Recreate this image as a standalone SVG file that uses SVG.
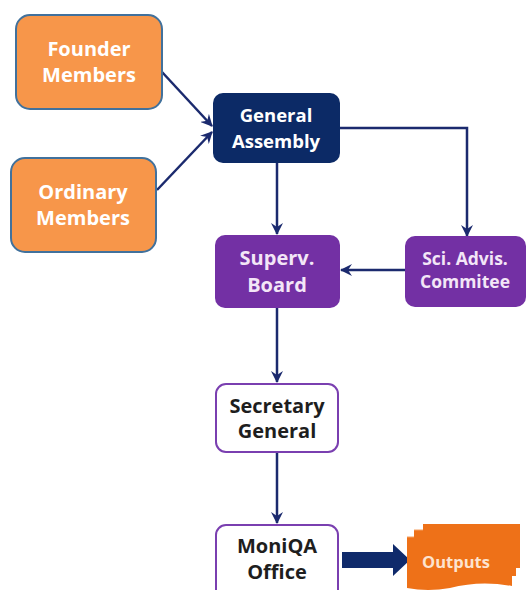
<svg xmlns="http://www.w3.org/2000/svg" width="527" height="590" viewBox="0 0 527 590">
<defs>
<style>
.lbl{font-family:"Open Sans","Liberation Sans",sans-serif;font-weight:700;text-anchor:middle}
.w{fill:#ffffff}
.pk{fill:#f3e6f7}
.dk{fill:#1e1e1e}
.conn{fill:none;stroke:#1b2a6e;stroke-width:2.5}
</style>
<marker id="ah" viewBox="0 0 12 12" refX="11" refY="6" markerWidth="12" markerHeight="12" markerUnits="userSpaceOnUse" orient="auto">
<path d="M0,0 L12,6 L0,12 L4,6 Z" fill="#1b2a6e"/>
</marker>
</defs>
<rect width="527" height="590" fill="#ffffff"/>
<g id="connectors">
<line class="conn" x1="162" y1="72" x2="212" y2="126" marker-end="url(#ah)"/>
<line class="conn" x1="157" y1="190" x2="212" y2="132" marker-end="url(#ah)"/>
<line class="conn" x1="277" y1="163" x2="277" y2="234" marker-end="url(#ah)"/>
<polyline class="conn" points="340,128 467,128 467,236" marker-end="url(#ah)"/>
<line class="conn" x1="405" y1="270" x2="341" y2="270" marker-end="url(#ah)"/>
<line class="conn" x1="277" y1="308" x2="277" y2="382" marker-end="url(#ah)"/>
<line class="conn" x1="277" y1="452" x2="277" y2="523" marker-end="url(#ah)"/>
<path d="M342,552 L393,552 L393,544 L410,560 L393,576 L393,568 L342,568 Z" fill="#0f2a6b"/>
</g>
<g id="founder">
<rect x="16" y="15" width="146" height="94" rx="14" fill="#f7964a" stroke="#41719c" stroke-width="2"/>
<text class="lbl w" x="89" y="56" font-size="20">Founder</text>
<text class="lbl w" x="89" y="82" font-size="20">Members</text>
</g>
<g id="ordinary">
<rect x="11" y="158" width="145" height="94" rx="14" fill="#f7964a" stroke="#41719c" stroke-width="2"/>
<text class="lbl w" x="83" y="199" font-size="20">Ordinary</text>
<text class="lbl w" x="83" y="225" font-size="20">Members</text>
</g>
<g id="assembly">
<rect x="213" y="93" width="127" height="70" rx="10" fill="#0c2a66"/>
<text class="lbl w" x="276" y="122" font-size="18.5" font-weight="600">General</text>
<text class="lbl w" x="276" y="148" font-size="18.5" font-weight="600">Assembly</text>
</g>
<g id="superv">
<rect x="215" y="235" width="125" height="73" rx="10" fill="#7330a4"/>
<text class="lbl pk" x="277" y="265" font-size="20" font-weight="600">Superv.</text>
<text class="lbl pk" x="277" y="292" font-size="20" font-weight="600">Board</text>
</g>
<g id="sci">
<rect x="405" y="236" width="121" height="71" rx="10" fill="#7330a4"/>
<text class="lbl pk" x="465" y="265" font-size="17.5" font-weight="600">Sci. Advis.</text>
<text class="lbl pk" x="465" y="288" font-size="17.5" font-weight="600">Commitee</text>
</g>
<g id="secretary">
<rect x="216" y="384" width="122" height="68" rx="10" fill="#ffffff" stroke="#7a3fb0" stroke-width="2"/>
<text class="lbl dk" x="277" y="413" font-size="20">Secretary</text>
<text class="lbl dk" x="277" y="438" font-size="20">General</text>
</g>
<g id="moniqa">
<rect x="216" y="525" width="122" height="75" rx="10" fill="#ffffff" stroke="#7a3fb0" stroke-width="2"/>
<text class="lbl dk" x="277" y="553" font-size="20">MoniQA</text>
<text class="lbl dk" x="277" y="579" font-size="20">Office</text>
</g>
<g id="outputs">
<path d="M423,524 L520,524 L520,568 L516,568 L516,576 L512,576 L512,586 Q480,580 450,588 Q428,592 407,588 L407,537 L414,537 L414,530 L423,530 Z" fill="#ee7118"/>
<path d="M414,530 L423,530 M407,537 L414,537" stroke="#f5a060" stroke-width="1" fill="none"/>
<text class="lbl" x="456" y="568" font-size="16.5" font-weight="600" fill="#fde3cf">Outputs</text>
</g>
</svg>
